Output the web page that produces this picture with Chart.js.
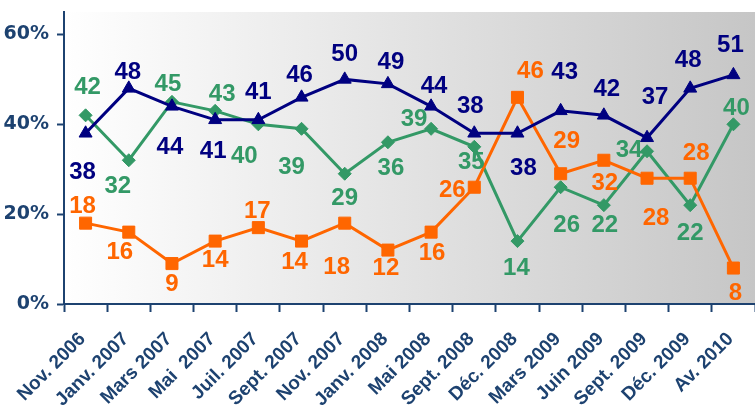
<!DOCTYPE html>
<html>
<head>
<meta charset="utf-8">
<script src="https://cdn.jsdelivr.net/npm/chart.js@4"></script>
<style>
  body { margin: 0; background: #fff; }
  #wrap { width: 755px; height: 420px; }
</style>
</head>
<body>
<div id="wrap"><canvas id="chart" width="755" height="420"></canvas></div>
<script>
const categories = ['Nov. 2006', 'Janv. 2007', 'Mars 2007', 'Mai  2007', 'Juil. 2007', 'Sept. 2007', 'Nov. 2007', 'Janv. 2008',
  'Mai 2008', 'Sept. 2008', 'Déc. 2008', 'Mars 2009', 'Juin 2009', 'Sept. 2009', 'Déc. 2009', 'Av. 2010'];
const navyValues = [38, 48, 44, 41, 41, 46, 50, 49, 44, 38, 38, 43, 42, 37, 48, 51];
const greenValues = [42, 32, 45, 43, 40, 39, 29, 36, 39, 35, 14, 26, 22, 34, 22, 40];
const orangeValues = [18, 16, 9, 14, 17, 14, 18, 12, 16, 26, 46, 29, 32, 28, 28, 8];
const yTicks = [0, 20, 40, 60];

// label offsets from each point, [dx, dy]
const navyLabelPos = [[-3, 39], [-1, -16], [-2, 41], [-2, 32], [0, -27], [-2, -22], [0, -25], [3, -22],
  [3, -20], [-4, -27], [6, 35], [4, -38], [3, -26], [8, -40], [-2, -28], [-3, -30]];
const greenLabelPos = [[2, -28], [-11, 26], [-4, -17], [7, -16], [-14, 32], [-10, 39], [0, 25], [3, 26],
  [-17, -9], [-3, 16], [-1, 27], [6, 38], [1, 20], [-18, -1], [0, 28], [3, -16]];
const orangeLabelPos = [[-3, -17], [-9, 20], [0, 21], [0, 19], [-1, -16], [-7, 21], [-8, 44], [-2, 18],
  [1, 21], [-22, 3], [13, -26], [6, -32], [1, 23], [9, 40], [6, -25], [2, 25]];

const NAVY = '#000080';
const GREEN = '#339966';
const ORANGE = '#ff6600';
const AXIS = '#1d4270';

const plotBackground = {
  id: 'plotBackground',
  beforeDraw(chart) {
    const {ctx, chartArea: a} = chart;
    const g = ctx.createLinearGradient(a.left, 0, a.right, 0);
    g.addColorStop(0, '#ffffff');
    g.addColorStop(1, '#c6c6c6');
    ctx.save();
    ctx.fillStyle = g;
    ctx.fillRect(a.left, a.top, a.right - a.left, a.bottom - a.top);
    ctx.restore();
  }
};

const valueLabels = {
  id: 'valueLabels',
  afterDatasetsDraw(chart) {
    const ctx = chart.ctx;
    ctx.save();
    ctx.font = 'bold 24px "Liberation Sans", Arial, sans-serif';
    ctx.textAlign = 'center';
    ctx.textBaseline = 'middle';
    chart.data.datasets.forEach((ds, i) => {
      const meta = chart.getDatasetMeta(i);
      ctx.fillStyle = ds.borderColor;
      meta.data.forEach((pt, j) => {
        const [dx, dy] = ds.labelPos[j];
        ctx.fillText(String(ds.data[j]), pt.x + dx, pt.y + dy);
      });
    });
    ctx.restore();
  }
};

function makeSet(data, color, style, radius, labelPos) {
  return {
    data: data,
    borderColor: color,
    backgroundColor: color,
    borderWidth: 3,
    pointStyle: style,
    pointRadius: radius,
    pointBorderWidth: 1,
    pointBackgroundColor: color,
    pointBorderColor: color,
    tension: 0,
    labelPos: labelPos
  };
}

new Chart(document.getElementById('chart').getContext('2d'), {
  type: 'line',
  data: {
    labels: categories,
    datasets: [
      makeSet(navyValues, NAVY, 'triangle', 7.5, navyLabelPos),
      makeSet(orangeValues, ORANGE, 'rect', 8.5, orangeLabelPos),
      makeSet(greenValues, GREEN, 'rectRot', 6.5, greenLabelPos)
    ]
  },
  options: {
    responsive: false,
    animation: false,
    layout: { autoPadding: false, padding: { top: 12, right: 0, bottom: 0, left: 0 } },
    plugins: { legend: { display: false }, tooltip: { enabled: false } },
    scales: {
      x: {
        offset: true,
        grid: { offset: true, drawOnChartArea: false, tickLength: 8, tickColor: AXIS, tickWidth: 2 },
        border: { display: true, color: AXIS, width: 2 },
        ticks: {
          autoSkip: false,
          maxRotation: 45,
          minRotation: 45,
          padding: 16,
          labelOffset: -3,
          color: AXIS,
          font: { family: '"Liberation Sans", Arial, sans-serif', size: 19, weight: 'bold' }
        },
        afterFit(scale) {
          scale.height = 116;
          scale.paddingLeft = 0;
          scale.paddingRight = 0;
        }
      },
      y: {
        min: 0,
        max: 65,
        grid: { drawOnChartArea: false, tickLength: 7, tickColor: AXIS, tickWidth: 2 },
        border: { display: true, color: AXIS, width: 2 },
        afterBuildTicks(scale) { scale.ticks = yTicks.map(v => ({value: v})); },
        ticks: {
          padding: 8,
          color: AXIS,
          font: { family: '"DejaVu Sans", sans-serif', size: 19, weight: 'bold' },
          callback: v => v + '%'
        },
        afterFit(scale) {
          scale.width = 64;
          scale.paddingTop = 0;
          scale.paddingBottom = 0;
        }
      }
    }
  },
  plugins: [plotBackground, valueLabels]
});
</script>
</body>
</html>
